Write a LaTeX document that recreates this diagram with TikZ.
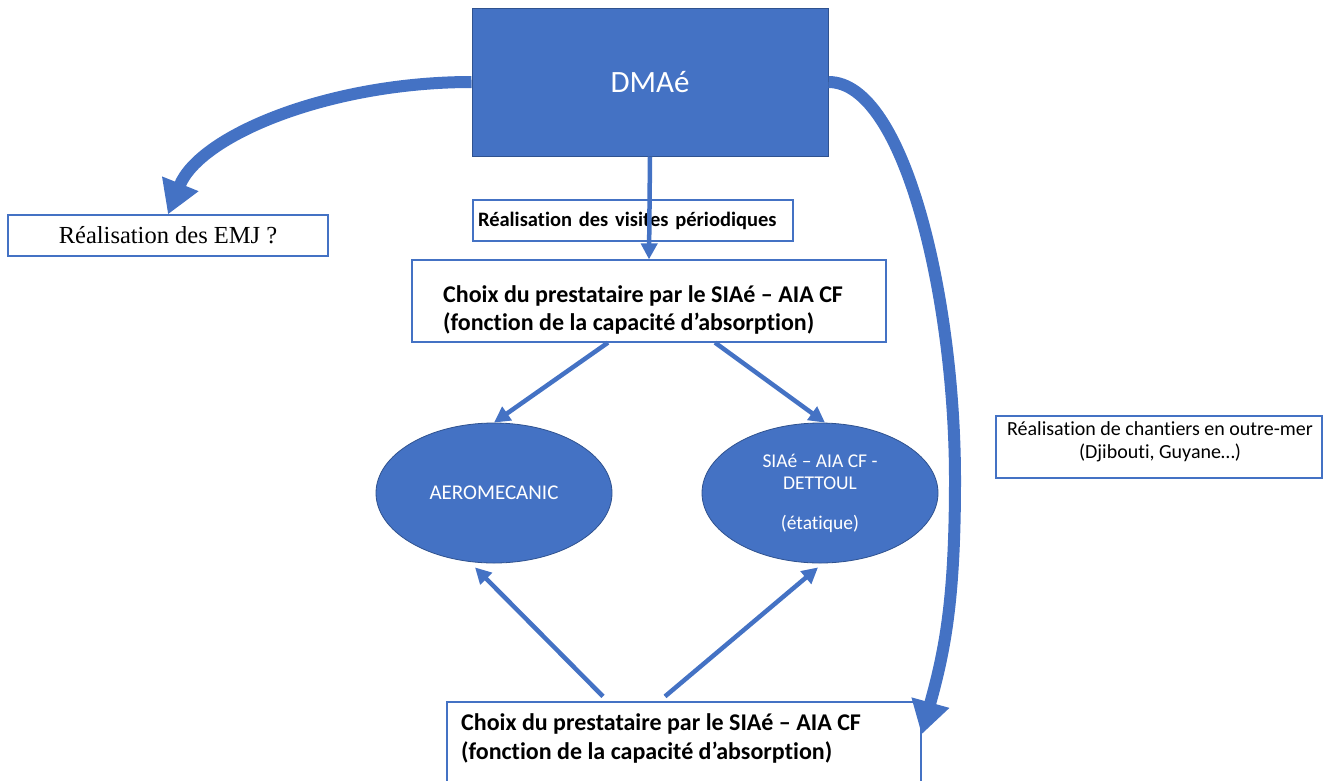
\documentclass[tikz,border=0pt]{standalone}
\usepackage{fontspec}
\setmainfont{Carlito}[Ligatures=NoCommon]
\newfontfamily\timesf{Liberation Serif}
\usetikzlibrary{arrows.meta,shapes.geometric}
\definecolor{ofblue}{HTML}{4472C4}
\definecolor{ofdark}{HTML}{2F528F}
\begin{document}
\begin{tikzpicture}[x=1pt,y=-1pt,
  box/.style={draw=ofblue, line width=1.2pt, fill=white, rectangle, inner sep=0pt},
  bluebox/.style={draw=ofdark, line width=1pt, fill=ofblue, rectangle, inner sep=0pt, text=white},
  oval/.style={ellipse, draw=ofdark, fill=ofblue, line width=0.8pt, minimum width=236pt, minimum height=140pt, inner sep=0pt, text=white, align=center, font=\fontsize{19.5}{22.5}\selectfont},
  bigtxt/.style={anchor=base west, inner sep=0pt, align=left, font=\bfseries\fontsize{24}{28.5}\selectfont},
  thinarrow/.style={draw=ofblue, line width=4.5pt, -{Triangle[length=16pt,width=16pt]}},
  thickarrow/.style={draw=ofblue, line width=12pt, -{Triangle[length=33pt,width=37pt]}}
]
\useasboundingbox (0,0) rectangle (1325,780);

% nodes
\node[bluebox, minimum width=356pt, minimum height=148pt, font=\fontsize{31}{37}\selectfont] (dma) at (650,82) {DMAé};
\node[box, minimum width=320pt, minimum height=41pt, font=\timesf\fontsize{24.5}{29}\selectfont] (emj) at (168,235.5) {Réalisation des EMJ ?};
\node[box, minimum width=320pt, minimum height=41pt, text width=310pt, inner xsep=5pt, align=left, font=\bfseries\fontsize{20.5}{24}\selectfont] (vis) at (633,220.5) {Réalisation des visites périodiques};
\node[box, minimum width=474pt, minimum height=82pt] (c1) at (649,301) {};
\node[bigtxt] (c1t) at (443,330.5) {Choix du prestataire par le SIAé – AIA CF\\(fonction de la capacité d’absorption)};
\node[oval, font=\fontsize{21}{24}\selectfont] (e1) at (494,493) {AEROMECANIC};
\node[oval] (e2) at (820,493) {SIAé – AIA CF -\\DETTOUL\\[17pt](étatique)};
\node[box, minimum width=326pt, minimum height=62pt] (ch) at (1159,447) {};
\node[anchor=base, inner sep=0pt, align=center, font=\fontsize{20}{22.5}\selectfont] (cht) at (1160,458) {Réalisation de chantiers en outre-mer\\(Djibouti, Guyane…)};
\node[box, minimum width=474pt, minimum height=100pt] (c2) at (684,752) {};
\node[bigtxt] (c2t) at (461,759) {Choix du prestataire par le SIAé – AIA CF\\(fonction de la capacité d’absorption)};

% thin connectors
\draw[thinarrow] (dma.south) -- (c1.north);
\draw[thinarrow] ([xshift=-41pt]c1.south) -- (e1.north);
\draw[thinarrow] ([xshift=66pt]c1.south) -- ([xshift=5pt]e2.north);
\draw[thinarrow] ([xshift=-81pt,yshift=5pt]c2.north) -- ([xshift=-19pt,yshift=-4pt]e1.south);
\draw[thinarrow] ([xshift=-19pt,yshift=5pt]c2.north) -- ([xshift=-2pt,yshift=-4pt]e2.south);

% thick curved connectors
\draw[thickarrow] (dma.west) .. controls (330,82) and (200,135) .. (emj.north);
\coordinate (rtip) at ([yshift=-33pt]c2.north east);
\draw[thickarrow] (dma.east) .. controls (905,82) and (955,300) .. (955,480) .. controls (955,600) and (945,650) .. (rtip);
\end{tikzpicture}
\end{document}
